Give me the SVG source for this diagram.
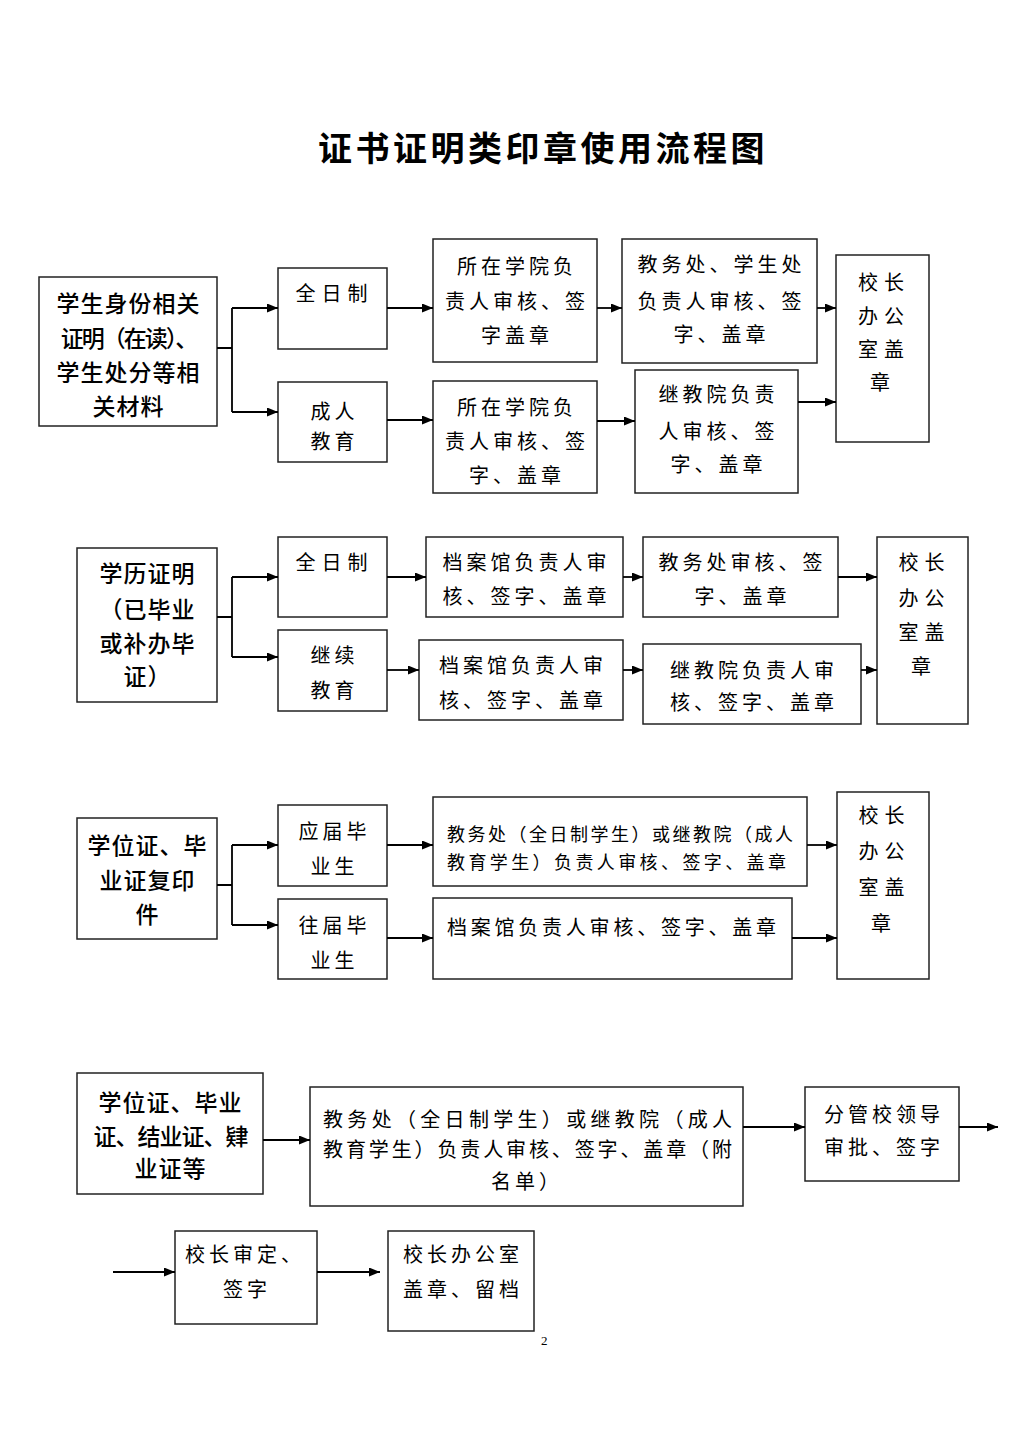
<svg xmlns="http://www.w3.org/2000/svg" width="1024" height="1448" viewBox="0 0 1024 1448">
<defs>
<marker id="arr" markerUnits="userSpaceOnUse" markerWidth="11" markerHeight="9" refX="11" refY="4.5" orient="auto">
<path d="M0,0 L11,4.5 L0,9 z" fill="#000"/>
</marker>
<style>
.box{fill:#fff;stroke:#222;stroke-width:1.5}
.h{font-family:"Noto Sans CJK SC","Noto Sans",sans-serif;font-size:23px;font-weight:500;fill:#000;text-anchor:middle;letter-spacing:1px}
.k{font-family:"Noto Sans CJK SC","Noto Sans",sans-serif;font-size:20px;font-weight:400;fill:#000;text-anchor:middle;letter-spacing:4px}
.s{font-family:"Noto Sans CJK SC","Noto Sans",sans-serif;font-size:18px;font-weight:400;fill:#000}
.w{font-family:"Noto Sans CJK SC","Noto Sans",sans-serif;font-size:20px;font-weight:400;fill:#000}
.t{font-family:"Noto Sans CJK SC","Noto Sans",sans-serif;font-size:34px;font-weight:700;fill:#000;text-anchor:middle;letter-spacing:3.5px}
.c{fill:none;stroke:#000;stroke-width:1.8}
.a{marker-end:url(#arr)}
</style>
</defs>
<rect width="1024" height="1448" fill="#fff"/>
<text class="t" x="543" y="161">证书证明类印章使用流程图</text>

<!-- Section 1 -->
<g id="s1-src"><rect class="box" x="39" y="277" width="178" height="149"/>
<text class="h" x="128.5" y="312">学生身份相关</text>
<text class="h" x="128.5" y="347" style="letter-spacing:-2px">证明（在读）、</text>
<text class="h" x="128.5" y="381">学生处分等相</text>
<text class="h" x="128.5" y="415">关材料</text></g>
<g id="s1-full"><rect class="box" x="278" y="268" width="109" height="81"/>
<text class="k" x="334.5" y="301" style="letter-spacing:6px">全日制</text></g>
<g id="s1-adult"><rect class="box" x="278" y="382" width="109" height="80"/>
<text class="k" x="334.5" y="419">成人</text>
<text class="k" x="334.5" y="449">教育</text></g>
<g id="s1-college1"><rect class="box" x="433" y="239" width="164" height="123"/>
<text class="k" x="517" y="274">所在学院负</text>
<text class="k" x="517" y="309">责人审核、签</text>
<text class="k" x="517" y="343">字盖章</text></g>
<g id="s1-jwc"><rect class="box" x="622" y="239" width="195" height="124"/>
<text class="k" x="721.5" y="272">教务处、学生处</text>
<text class="k" x="721.5" y="309">负责人审核、签</text>
<text class="k" x="721.5" y="342">字、盖章</text></g>
<g id="s1-college2"><rect class="box" x="433" y="381" width="164" height="112"/>
<text class="k" x="517" y="415">所在学院负</text>
<text class="k" x="517" y="449">责人审核、签</text>
<text class="k" x="517" y="483">字、盖章</text></g>
<g id="s1-jjy"><rect class="box" x="635" y="370" width="163" height="123"/>
<text class="k" x="718.5" y="402">继教院负责</text>
<text class="k" x="718.5" y="439">人审核、签</text>
<text class="k" x="718.5" y="472">字、盖章</text></g>
<g id="s1-office"><rect class="box" x="836" y="255" width="93" height="187"/>
<text class="k" x="884" y="290" style="letter-spacing:6px">校长</text>
<text class="k" x="884" y="324" style="letter-spacing:6px">办公</text>
<text class="k" x="884" y="357" style="letter-spacing:6px">室盖</text>
<text class="k" x="882" y="390">章</text></g>

<!-- Section 2 -->
<g id="s2-src"><rect class="box" x="77" y="548" width="140" height="154"/>
<text class="h" x="147.5" y="582">学历证明</text>
<text class="h" x="147.5" y="618">（已毕业</text>
<text class="h" x="147.5" y="652">或补办毕</text>
<text class="h" x="147.5" y="685">证）</text></g>
<g id="s2-full"><rect class="box" x="278" y="537" width="109" height="80"/>
<text class="k" x="334.5" y="570" style="letter-spacing:6px">全日制</text></g>
<g id="s2-cont"><rect class="box" x="278" y="630" width="109" height="81"/>
<text class="k" x="334.5" y="663">继续</text>
<text class="k" x="334.5" y="698">教育</text></g>
<g id="s2-arch1"><rect class="box" x="426" y="537" width="197" height="80"/>
<text class="k" x="526.5" y="570">档案馆负责人审</text>
<text class="k" x="526.5" y="604">核、签字、盖章</text></g>
<g id="s2-jwc"><rect class="box" x="643" y="537" width="195" height="80"/>
<text class="k" x="742.5" y="570">教务处审核、签</text>
<text class="k" x="742.5" y="604">字、盖章</text></g>
<g id="s2-arch2"><rect class="box" x="419" y="640" width="204" height="80"/>
<text class="k" x="523" y="673">档案馆负责人审</text>
<text class="k" x="523" y="708">核、签字、盖章</text></g>
<g id="s2-jjy"><rect class="box" x="643" y="644" width="218" height="80"/>
<text class="k" x="754" y="678">继教院负责人审</text>
<text class="k" x="754" y="710">核、签字、盖章</text></g>
<g id="s2-office"><rect class="box" x="877" y="537" width="91" height="187"/>
<text class="k" x="924.5" y="570" style="letter-spacing:6px">校长</text>
<text class="k" x="924.5" y="606" style="letter-spacing:6px">办公</text>
<text class="k" x="924.5" y="640" style="letter-spacing:6px">室盖</text>
<text class="k" x="923" y="674">章</text></g>

<!-- Section 3 -->
<g id="s3-src"><rect class="box" x="77" y="818" width="140" height="121"/>
<text class="h" x="147.5" y="854">学位证、毕</text>
<text class="h" x="147.5" y="889">业证复印</text>
<text class="h" x="147.5" y="923">件</text></g>
<g id="s3-cur"><rect class="box" x="278" y="805" width="109" height="81"/>
<text class="k" x="334.5" y="839">应届毕</text>
<text class="k" x="334.5" y="874">业生</text></g>
<g id="s3-past"><rect class="box" x="278" y="899" width="109" height="80"/>
<text class="k" x="334.5" y="933">往届毕</text>
<text class="k" x="334.5" y="968">业生</text></g>
<g id="s3-jwc"><rect class="box" x="433" y="797" width="374" height="89"/>
<text class="s" x="447" y="841" textLength="346" lengthAdjust="spacing">教务处（全日制学生）或继教院（成人</text>
<text class="s" x="447" y="869" textLength="339" lengthAdjust="spacing">教育学生）负责人审核、签字、盖章</text></g>
<g id="s3-arch"><rect class="box" x="433" y="898" width="359" height="81"/>
<text class="w" x="447" y="935" textLength="329" lengthAdjust="spacing">档案馆负责人审核、签字、盖章</text></g>
<g id="s3-office"><rect class="box" x="837" y="792" width="92" height="187"/>
<text class="k" x="884.5" y="823" style="letter-spacing:6px">校长</text>
<text class="k" x="884.5" y="859" style="letter-spacing:6px">办公</text>
<text class="k" x="884.5" y="895" style="letter-spacing:6px">室盖</text>
<text class="k" x="883" y="931">章</text></g>

<!-- Section 4 -->
<g id="s4-src"><rect class="box" x="77" y="1073" width="186" height="121"/>
<text class="h" x="170.5" y="1111">学位证、毕业</text>
<text class="h" x="170.5" y="1145" style="letter-spacing:-1px">证、结业证、肄</text>
<text class="h" x="170.5" y="1177">业证等</text></g>
<g id="s4-jwc"><rect class="box" x="310" y="1087" width="433" height="119"/>
<text class="w" x="323" y="1127" textLength="409" lengthAdjust="spacing">教务处（全日制学生）或继教院（成人</text>
<text class="w" x="323" y="1157" textLength="409" lengthAdjust="spacing">教育学生）负责人审核、签字、盖章（附</text>
<text class="k" x="527" y="1189">名单）</text></g>
<g id="s4-leader"><rect class="box" x="805" y="1087" width="154" height="94"/>
<text class="k" x="884" y="1122">分管校领导</text>
<text class="k" x="884" y="1155">审批、签字</text></g>
<g id="s4-president"><rect class="box" x="175" y="1231" width="142" height="93"/>
<text class="k" x="245" y="1262">校长审定、</text>
<text class="k" x="247" y="1297">签字</text></g>
<g id="s4-office"><rect class="box" x="388" y="1231" width="146" height="100"/>
<text class="k" x="463" y="1262">校长办公室</text>
<text class="k" x="463" y="1297">盖章、留档</text></g>

<g id="connectors">
<path class="c" d="M217,348 H232 M232,308 V412"/>
<path class="c a" d="M232,308 H278"/>
<path class="c a" d="M232,412 H278"/>
<path class="c a" d="M387,308 H433"/>
<path class="c a" d="M387,420 H433"/>
<path class="c a" d="M597,308 H622"/>
<path class="c a" d="M597,421 H635"/>
<path class="c a" d="M817,308 H836"/>
<path class="c a" d="M798,402 H836"/>

<path class="c" d="M217,617 H232 M232,577 V657"/>
<path class="c a" d="M232,577 H278"/>
<path class="c a" d="M232,657 H278"/>
<path class="c a" d="M387,577 H426"/>
<path class="c a" d="M387,670 H419"/>
<path class="c a" d="M623,577 H643"/>
<path class="c a" d="M623,670 H643"/>
<path class="c a" d="M838,577 H877"/>
<path class="c a" d="M861,670 H877"/>

<path class="c" d="M217,885 H232 M232,845 V925"/>
<path class="c a" d="M232,845 H278"/>
<path class="c a" d="M232,925 H278"/>
<path class="c a" d="M387,845 H433"/>
<path class="c a" d="M387,938 H433"/>
<path class="c a" d="M807,845 H837"/>
<path class="c a" d="M792,938 H837"/>

<path class="c a" d="M263,1140 H310"/>
<path class="c a" d="M743,1127 H805"/>
<path class="c a" d="M959,1127 H998"/>
<path class="c a" d="M113,1272 H175"/>
<path class="c a" d="M317,1272 H380"/>
</g>
<text x="541" y="1345" style="font-family:'Liberation Serif',serif;font-size:13px;fill:#000">2</text>
</svg>
